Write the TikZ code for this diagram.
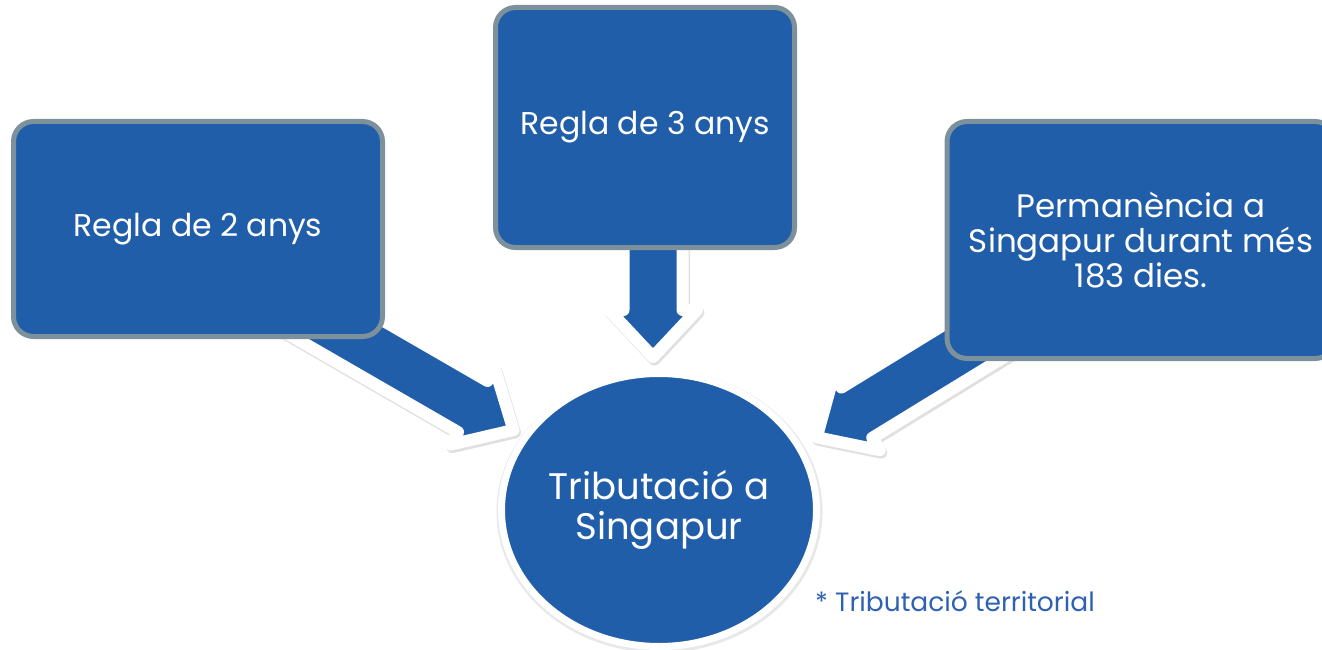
\documentclass[tikz,border=0pt]{standalone}
\usepackage{fontspec}
\setmainfont{Poppins}
\usetikzlibrary{shapes.geometric,shadows}
\definecolor{mainblue}{RGB}{33,94,170}
\definecolor{framegray}{RGB}{124,145,156}
\definecolor{noteblue}{RGB}{46,98,176}
\tikzset{
  box/.style={draw=framegray, line width=5pt, fill=mainblue, rounded corners=20pt,
    text=white, align=center, inner sep=0pt, outer sep=0pt,
    font=\fontsize{31.5}{35}\selectfont},
  hub/.style={ellipse, draw=white, line width=7pt, fill=mainblue, text=white,
    align=center, inner sep=0pt, outer sep=0pt,
    font=\fontsize{37}{40}\selectfont,
    drop shadow={shadow xshift=0.5pt, shadow yshift=-1.5pt, shadow scale=1.035,
      opacity=.13, fill=black!70}},
  note/.style={text=noteblue, font=\fontsize{26.5}{30}\selectfont, anchor=west, inner sep=0pt},
  arrowshape/.style={line width=12pt, line join=round},
  pics/blockshadow/.style={code={
    \filldraw[black, opacity=.12, arrowshape]
      (0,-29.5) -- (#1-47,-29.5) -- (#1-47,-44) -- (#1,0) -- (#1-47,44) -- (#1-47,29.5) -- (0,29.5) -- cycle;
  }},
  pics/blockarrow/.style={code={
    \filldraw[fill=mainblue, draw=white, arrowshape]
      (0,-29.5) -- (#1-47,-29.5) -- (#1-47,-44) -- (#1,0) -- (#1-47,44) -- (#1-47,29.5) -- (0,29.5) -- cycle;
  }}
}
\begin{document}
\begin{tikzpicture}[x=1pt, y=-1pt]
\useasboundingbox (0,0) rectangle (1322,650);
\begin{scope}
\clip (0,0) rectangle (1322,650);
% arrow end points
\coordinate (t1) at (288.3,300);
\coordinate (h1) at (513.5,430);
\coordinate (t2) at (653,200);
\coordinate (h2) at (653,357);
\coordinate (t3) at (1038.4,301.4);
\coordinate (h3) at (816.6,437.1);
% arrow shadows
\pic[rotate=-30] at ([shift={(1.5,2.5)}]t1) {blockshadow=260};
\pic[rotate=-90] at ([shift={(1.5,2.5)}]t2) {blockshadow=157};
\pic[rotate=211.5] at ([shift={(1.5,2.5)}]t3) {blockshadow=260};
% arrows
\pic[rotate=-30] at (t1) {blockarrow=260};
\pic[rotate=-90] at (t2) {blockarrow=157};
\pic[rotate=211.5] at (t3) {blockarrow=260};
% boxes
\node[box, minimum width=369pt, minimum height=215pt] (b2) at (198,229) {Regla de 2 anys};
\node[box, minimum width=299pt, minimum height=240pt] (b3) at (645,127.5) {Regla de 3 anys};
\node[box, minimum width=388pt, minimum height=237pt, font=\fontsize{32.5}{35}\selectfont] (b183) at (1141,240) {Permanència a\\Singapur durant més\\183 dies.};
% hub
\node[hub, minimum width=315pt, minimum height=273pt] (hub) at (659,510) {Tributació a\\Singapur};
% note
\node[note] (nt) at (815,601) {* Tributació territorial};
\end{scope}
\end{tikzpicture}
\end{document}
